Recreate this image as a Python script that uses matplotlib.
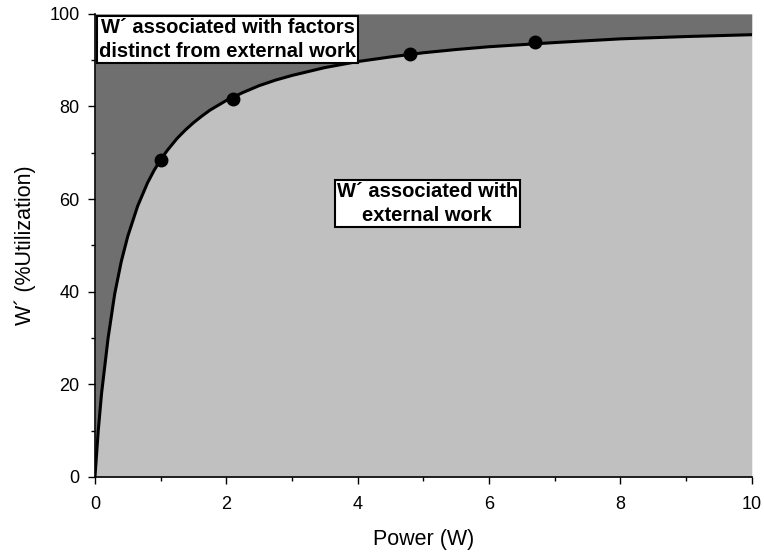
import matplotlib
matplotlib.use("Agg")
import matplotlib.pyplot as plt
import numpy as np

plt.rcParams['font.family'] = ['Liberation Sans', 'DejaVu Sans']

# curve
curve_x = [0, 0.05, 0.1, 0.2, 0.3, 0.4, 0.5, 0.65, 0.8, 0.9, 1.0, 1.1, 1.25, 1.375, 1.5,
           1.625, 1.75, 2.0, 2.25, 2.5, 2.75, 3.0, 3.5, 4.0, 4.5, 5.0, 5.5, 6.0, 7.0,
           8.0, 9.0, 10.0]
curve_y = [0, 10, 18, 30, 39.5, 46.5, 52, 58.5, 63.5, 66.2, 68.5, 70.5, 73.1, 74.9, 76.5,
           77.9, 79.2, 81.3, 83.0, 84.5, 85.7, 86.7, 88.4, 89.7, 90.7, 91.6, 92.3, 92.9,
           93.8, 94.6, 95.1, 95.5]

# measured points
pts_x = [1.0, 2.1, 4.8, 6.7]
pts_y = [68.5, 81.6, 91.3, 94.0]

fig = plt.figure(figsize=(7.64, 5.54), dpi=100)
ax = fig.add_axes([0.1243, 0.139, 0.8597, 0.836])

ax.fill_between(curve_x, curve_y, 100, color='#6f6f6f', linewidth=0)
ax.fill_between(curve_x, 0, curve_y, color='#c0c0c0', linewidth=0)
ax.plot(curve_x, curve_y, color='black', lw=2.2)
ax.plot(pts_x, pts_y, 'o', color='black', markersize=9)

ax.set_xlim(0, 10)
ax.set_ylim(0, 100)
ax.set_xticks([0, 2, 4, 6, 8, 10])
ax.set_xticks([1, 3, 5, 7, 9], minor=True)
ax.set_yticks([0, 20, 40, 60, 80, 100])
ax.set_yticks([10, 30, 50, 70, 90], minor=True)
ax.tick_params(direction='out', length=5, width=1, labelsize=13)
ax.tick_params(axis='x', pad=9)
ax.tick_params(axis='y', pad=6)
ax.tick_params(which='minor', direction='out', length=3, width=1)
for s in ['top', 'right']:
    ax.spines[s].set_visible(False)
for s in ['left', 'bottom']:
    ax.spines[s].set_linewidth(1.2)

ax.set_xlabel('Power (W)', fontsize=15.5, labelpad=11)
ax.set_ylabel('W\u00b4 (%Utilization)', fontsize=15.5, labelpad=10)

box = dict(boxstyle='square,pad=0.1', facecolor='white', edgecolor='black', linewidth=1.5)
ax.text(2.02, 94.5, 'W\u00b4 associated with factors\ndistinct from external work',
        ha='center', va='center', fontsize=14.5, fontweight='bold', bbox=box, linespacing=1.3)
ax.text(5.06, 59, 'W\u00b4 associated with\nexternal work',
        ha='center', va='center', fontsize=14.5, fontweight='bold', bbox=box, linespacing=1.3)

fig.savefig('out.png', dpi=100)
